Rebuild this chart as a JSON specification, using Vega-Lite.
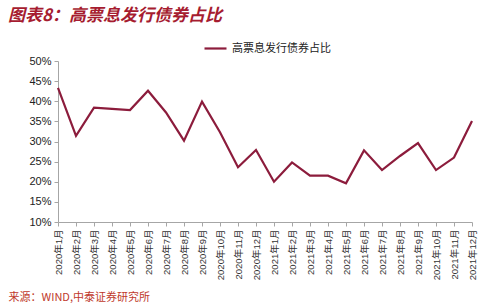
{
  "$schema": "https://vega.github.io/schema/vega-lite/v6.json",
  "width": 414,
  "height": 161,
  "autosize": {"type": "none"},
  "padding": {"left": 58, "top": 61, "right": 28, "bottom": 83},
  "background": "white",
  "config": {
    "font": "Liberation Sans, Noto Sans CJK SC",
    "view": {"stroke": null}
  },
  "title": {
    "text": "图表8：高票息发行债券占比",
    "anchor": "start",
    "frame": "group",
    "dx": -50,
    "offset": 11,
    "fontSize": 17,
    "fontStyle": "italic",
    "fontWeight": "bold",
    "color": "#a61c30",
    "font": "Noto Sans CJK SC"
  },
  "data": {
    "values": [
      {"month": "2020年1月", "v": 43.3},
      {"month": "2020年2月", "v": 31.4},
      {"month": "2020年3月", "v": 38.4},
      {"month": "2020年4月", "v": 38.1},
      {"month": "2020年5月", "v": 37.8},
      {"month": "2020年6月", "v": 42.6},
      {"month": "2020年7月", "v": 37.2},
      {"month": "2020年8月", "v": 30.2},
      {"month": "2020年9月", "v": 39.9},
      {"month": "2020年10月", "v": 32.3},
      {"month": "2020年11月", "v": 23.6},
      {"month": "2020年12月", "v": 27.9},
      {"month": "2021年1月", "v": 20.0},
      {"month": "2021年2月", "v": 24.8},
      {"month": "2021年3月", "v": 21.5},
      {"month": "2021年4月", "v": 21.5},
      {"month": "2021年5月", "v": 19.6},
      {"month": "2021年6月", "v": 27.8},
      {"month": "2021年7月", "v": 22.9},
      {"month": "2021年8月", "v": 26.4},
      {"month": "2021年9月", "v": 29.6},
      {"month": "2021年10月", "v": 22.9},
      {"month": "2021年11月", "v": 26.0},
      {"month": "2021年12月", "v": 35.1}
    ]
  },
  "mark": {"type": "line", "strokeWidth": 2.2},
  "encoding": {
    "x": {
      "field": "month",
      "type": "ordinal",
      "sort": null,
      "scale": {"type": "point", "padding": 0},
      "axis": {
        "title": "来源：WIND,中泰证券研究所",
        "titleColor": "#c0392b",
        "titleFontSize": 11,
        "titleFontWeight": "normal",
        "titleFont": "Noto Sans CJK SC",
        "titleAnchor": "start",
        "titleAlign": "left",
        "titleX": -50,
        "titleY": 69,
        "labelAngle": -90,
        "labelAlign": "right",
        "labelBaseline": "middle",
        "labelFontSize": 9.5,
        "labelColor": "#333333",
        "labelPadding": 3,
        "domainColor": "#a6a6a6",
        "tickColor": "#a6a6a6",
        "tickSize": 4,
        "grid": false
      }
    },
    "y": {
      "field": "v",
      "type": "quantitative",
      "scale": {"domain": [10, 50], "nice": false, "zero": false},
      "axis": {
        "title": null,
        "values": [10, 15, 20, 25, 30, 35, 40, 45, 50],
        "labelExpr": "datum.value + '%'",
        "labelFontSize": 11,
        "labelColor": "#222222",
        "labelPadding": 3,
        "domainColor": "#a6a6a6",
        "tickColor": "#a6a6a6",
        "tickSize": 4,
        "grid": false
      }
    },
    "color": {
      "datum": "高票息发行债券占比",
      "type": "nominal",
      "scale": {"range": ["#8c1c3c"]},
      "legend": {
        "title": null,
        "orient": "none",
        "legendX": 145,
        "legendY": -25,
        "symbolType": "stroke",
        "symbolSize": 484,
        "symbolStrokeWidth": 2.2,
        "labelFontSize": 11,
        "labelFont": "Noto Sans CJK SC",
        "labelColor": "#222222"
      }
    }
  }
}
